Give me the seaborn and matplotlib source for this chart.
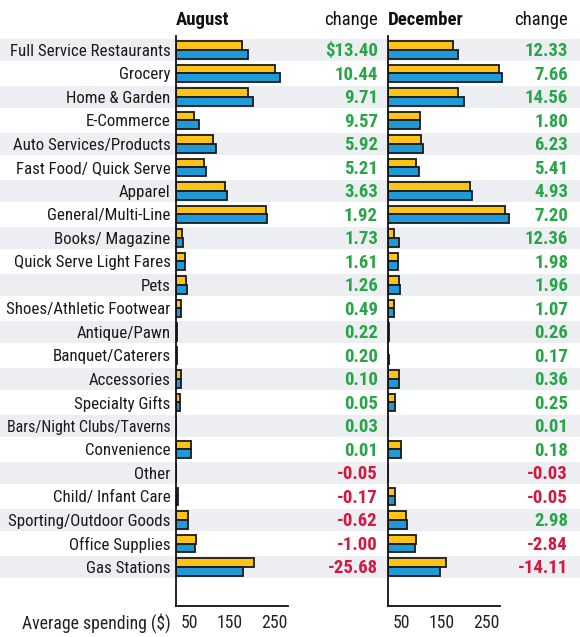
import matplotlib
matplotlib.use("Agg")
import matplotlib.pyplot as plt
import matplotlib.transforms as mtransforms
import seaborn as sns
import pandas as pd

categories = ["Full Service Restaurants", "Grocery", "Home & Garden", "E-Commerce",
              "Auto Services/Products", "Fast Food/ Quick Serve", "Apparel",
              "General/Multi-Line", "Books/ Magazine", "Quick Serve Light Fares", "Pets",
              "Shoes/Athletic Footwear", "Antique/Pawn", "Banquet/Caterers", "Accessories",
              "Specialty Gifts", "Bars/Night Clubs/Taverns", "Convenience", "Other",
              "Child/ Infant Care", "Sporting/Outdoor Goods", "Office Supplies", "Gas Stations"]

aug_prior = [147.6, 222.5, 162.0, 41.0, 83.0, 62.5, 110.5, 202.0, 14.0, 19.5, 23.0,
             11.0, 3.0, 1.5, 12.0, 9.6, 1.0, 33.0, 1.1, 4.5, 27.5, 44.0, 175.0]
aug_current = [161.0, 233.0, 171.7, 50.6, 88.9, 67.7, 114.1, 203.9, 15.7, 21.1, 24.3,
               11.5, 3.2, 1.7, 12.1, 9.65, 1.03, 33.01, 1.05, 4.33, 26.9, 43.0, 149.3]
dec_prior = [145.0, 249.0, 156.0, 71.0, 73.0, 63.0, 184.5, 263.0, 12.6, 21.5, 24.0,
             12.6, 2.0, 1.0, 25.0, 15.0, 1.0, 30.0, 1.0, 15.0, 40.0, 63.0, 131.0]
dec_current = [157.3, 256.7, 170.6, 72.8, 79.2, 68.4, 189.4, 270.2, 25.0, 23.5, 26.0,
               13.7, 2.26, 1.17, 25.4, 15.25, 1.01, 30.2, 0.97, 14.95, 43.0, 60.2, 116.9]

aug_change = ["$13.40", "10.44", "9.71", "9.57", "5.92", "5.21", "3.63", "1.92", "1.73",
              "1.61", "1.26", "0.49", "0.22", "0.20", "0.10", "0.05", "0.03", "0.01",
              "-0.05", "-0.17", "-0.62", "-1.00", "-25.68"]
dec_change = ["12.33", "7.66", "14.56", "1.80", "6.23", "5.41", "4.93", "7.20", "12.36",
              "1.98", "1.96", "1.07", "0.26", "0.17", "0.36", "0.25", "0.01", "0.18",
              "-0.03", "-0.05", "2.98", "-2.84", "-14.11"]

tick_values = [0, 50, 100, 150, 200, 250]
tick_labels = ["", "50", "", "150", "", "250"]
periods = ["prior year", "this year"]

YELLOW = "#FDC416"
BLUE = "#1F9AD8"
GREEN = "#27A548"
RED = "#D5173F"
STRIPE = "#EDEEF2"

sns.set_theme(style="white")
FONT = ["Roboto Condensed", "Roboto", "DejaVu Sans"]
plt.rcParams["font.family"] = FONT

W, H = 580, 637
fig = plt.figure(figsize=(W / 100, H / 100), dpi=100)

top_px, bot_px = 36, 606
row0, pitch = 50, 23.5
y_top = (top_px - row0) / pitch
y_bot = (bot_px - row0) / pitch
ax_h = (bot_px - top_px) / H
ax_bottom = 1 - bot_px / H
px_per_unit = 0.446

LABEL_FS = 12.2
VALUE_FS = 13.5

# background stripes
bg = fig.add_axes([0, ax_bottom, 1, ax_h], zorder=0)
bg.set_xlim(0, 1)
bg.set_ylim(y_bot, y_top)
for i in range(len(categories)):
    if i % 2 == 0:
        bg.axhspan(i - 0.46, i + 0.46, color=STRIPE, lw=0)
bg.axis("off")


def make_panel(left_px, right_px, prior, current, changes, title, change_x_px, show_labels):
    ax = fig.add_axes([left_px / W, ax_bottom, (right_px - left_px) / W, ax_h], zorder=2)
    ax.patch.set_alpha(0)
    n = len(categories)
    df = pd.DataFrame({
        "category": categories * 2,
        "value": list(prior) + list(current),
        "period": [periods[0]] * n + [periods[1]] * n,
    })
    sns.barplot(data=df, y="category", x="value", hue="period", orient="h",
                order=categories, hue_order=periods, palette=[YELLOW, BLUE],
                edgecolor="#1a1a1a", linewidth=1.3, width=0.74, ax=ax,
                legend=False, errorbar=None, saturation=1)
    ax.set_xlim(0, (right_px - left_px) / px_per_unit)
    ax.set_ylim(y_bot, y_top)
    for s in ["top", "right"]:
        ax.spines[s].set_visible(False)
    for s in ["left", "bottom"]:
        ax.spines[s].set_color("#111111")
        ax.spines[s].set_linewidth(1.3)
    ax.spines["bottom"].set_bounds(0, 250)
    ax.set_xticks(tick_values)
    ax.set_xticklabels(tick_labels, ha="right", fontsize=LABEL_FS + 0.5, color="#222222")
    ax.tick_params(axis="x", direction="in", length=13, width=1.3, color="#111111", pad=6)
    ax.tick_params(axis="y", length=0, pad=4)
    ax.set_xlabel("")
    ax.set_ylabel("")
    ax.set_yticks(range(n))
    if show_labels:
        ax.set_yticklabels(categories, fontsize=LABEL_FS, color="#1a1a1a")
    else:
        ax.set_yticklabels([""] * n)
    trans = mtransforms.blended_transform_factory(fig.transFigure, ax.transData)
    for i, c in enumerate(changes):
        col = RED if c.startswith("-") else GREEN
        ax.text(change_x_px / W, i + 0.05, c, transform=trans, ha="right", va="center",
                fontsize=VALUE_FS, fontweight="bold", color=col)
    fig.text(left_px / W, 1 - 20 / H, title, ha="left", va="center",
             fontsize=VALUE_FS, fontweight="bold", color="#111111")
    fig.text(change_x_px / W, 1 - 20 / H, "change", ha="right", va="center",
             fontsize=VALUE_FS, color="#111111")
    return ax


ax_aug = make_panel(176, 378, aug_prior, aug_current, aug_change, "August", 378, True)
make_panel(388, 578, dec_prior, dec_current, dec_change, "December", 568, False)

fig.text(171 / W, 1 - 623 / H, "Average spending ($)", ha="right", va="center",
         fontsize=LABEL_FS + 0.5, color="#222222")

# shrink any row label that would run past the left edge
fig.canvas.draw()
renderer = fig.canvas.get_renderer()
for lab in ax_aug.get_yticklabels():
    bb = lab.get_window_extent(renderer)
    if bb.x0 < 6:
        width_avail = bb.x1 - 6
        lab.set_fontsize(LABEL_FS * width_avail / bb.width)

fig.savefig("out.png", dpi=100)
